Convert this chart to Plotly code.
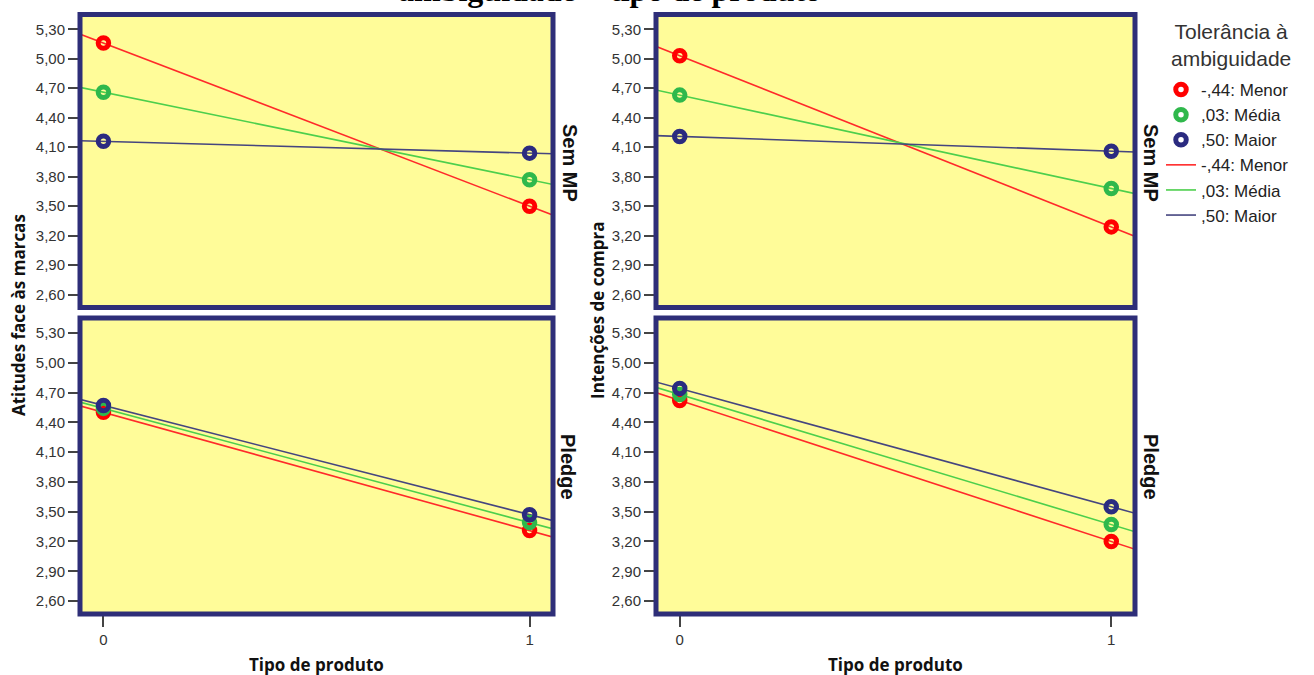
import numpy as np
import plotly.graph_objects as go

# ---------------- data ----------------
groups = ["-,44: Menor", ",03: Média", ",50: Maior"]
x_vals = [0, 1]
x_tick_labels = ["0", "1"]
y_ticks = [2.60, 2.90, 3.20, 3.50, 3.80, 4.10, 4.40, 4.70, 5.00, 5.30]

atitudes_sem_mp_menor = [5.16, 3.50]
atitudes_sem_mp_media = [4.66, 3.77]
atitudes_sem_mp_maior = [4.16, 4.04]

atitudes_pledge_menor = [4.50, 3.31]
atitudes_pledge_media = [4.54, 3.39]
atitudes_pledge_maior = [4.57, 3.47]

intencoes_sem_mp_menor = [5.03, 3.29]
intencoes_sem_mp_media = [4.63, 3.68]
intencoes_sem_mp_maior = [4.21, 4.06]

intencoes_pledge_menor = [4.62, 3.20]
intencoes_pledge_media = [4.68, 3.37]
intencoes_pledge_maior = [4.74, 3.55]

panels = [
    # (xaxis, yaxis, series)
    ("x", "y", [atitudes_sem_mp_menor, atitudes_sem_mp_media, atitudes_sem_mp_maior]),
    ("x2", "y2", [atitudes_pledge_menor, atitudes_pledge_media, atitudes_pledge_maior]),
    ("x3", "y3", [intencoes_sem_mp_menor, intencoes_sem_mp_media, intencoes_sem_mp_maior]),
    ("x4", "y4", [intencoes_pledge_menor, intencoes_pledge_media, intencoes_pledge_maior]),
]

marker_colors = ["#ff0000", "#2fb84c", "#2b2b80"]
line_colors = ["#ff2a2a", "#4ccf4c", "#45457f"]
frame_color = "#2e2e78"
panel_bg = "#fffc99"
XR = [-0.055, 1.055]
YR = [2.47, 5.45]

fig = go.Figure()

# fit lines (drawn through each pair of points and extended across the panel)
line_x = np.array([-0.2, 1.2])
for pi, (xa, ya, series) in enumerate(panels):
    for gi, vals in enumerate(series):
        slope, intercept = np.polyfit(x_vals, vals, 1)
        fig.add_trace(go.Scatter(
            x=line_x, y=slope * line_x + intercept, mode="lines",
            line=dict(color=line_colors[gi], width=1.6),
            name=groups[gi], legendrank=200 + gi,
            showlegend=(pi == 0), xaxis=xa, yaxis=ya, hoverinfo="skip"))

# markers
for pi, (xa, ya, series) in enumerate(panels):
    for gi, vals in enumerate(series):
        fig.add_trace(go.Scatter(
            x=x_vals, y=vals, mode="markers",
            marker=dict(symbol="circle-open", size=10.5, color=marker_colors[gi],
                        line=dict(width=5, color=marker_colors[gi])),
            name=groups[gi], legendrank=100 + gi,
            showlegend=(pi == 0), xaxis=xa, yaxis=ya, cliponaxis=False))

W, H = 1314, 675
def px_x(a, b):
    return [a / W, b / W]
def px_y(top, bottom):
    return [1 - bottom / H, 1 - top / H]

left_dom = px_x(80, 553)
right_dom = px_x(656, 1135)
top_dom = px_y(14.5, 307.5)
bot_dom = px_y(318, 614)

tickfont = dict(family="Liberation Sans, Arial", size=15, color="#333333")
common_x = dict(range=XR, tickvals=x_vals, ticktext=x_tick_labels, showgrid=False,
                zeroline=False, showline=False, ticklen=12,
                tickwidth=1.5, tickcolor="#444444", tickfont=tickfont, fixedrange=True)
common_y = dict(range=YR, tickvals=y_ticks, tickformat=".2f", showgrid=False,
                zeroline=False, showline=False, ticks="outside", ticklen=11,
                tickwidth=1.5, tickcolor="#444444", tickfont=tickfont, fixedrange=True)

fig.update_layout(
    width=W, height=H,
    margin=dict(l=0, r=0, t=0, b=0),
    paper_bgcolor="white", plot_bgcolor=panel_bg,
    separators=",.",
    showlegend=True,
    xaxis=dict(domain=left_dom, anchor="y", showticklabels=False, ticks="", **common_x),
    yaxis=dict(domain=top_dom, anchor="x", **common_y),
    xaxis2=dict(domain=left_dom, anchor="y2", ticks="outside", **common_x),
    yaxis2=dict(domain=bot_dom, anchor="x2", **common_y),
    xaxis3=dict(domain=right_dom, anchor="y3", showticklabels=False, ticks="", **common_x),
    yaxis3=dict(domain=top_dom, anchor="x3", **common_y),
    xaxis4=dict(domain=right_dom, anchor="y4", ticks="outside", **common_x),
    yaxis4=dict(domain=bot_dom, anchor="x4", **common_y),
    legend=dict(
        x=1161 / W, y=1 - 72 / H, xanchor="left", yanchor="top",
        bgcolor="rgba(0,0,0,0)",
        font=dict(family="Liberation Sans, Arial", size=17, color="#222222"),
        itemsizing="trace", tracegroupgap=0),
)

# frames
for xa, ya in [("x", "y"), ("x2", "y2"), ("x3", "y3"), ("x4", "y4")]:
    fig.add_shape(type="rect", xref=f"{xa} domain", yref=f"{ya} domain",
                  x0=0, x1=1, y0=0, y1=1, layer="above",
                  line=dict(color=frame_color, width=5), fillcolor="rgba(0,0,0,0)")

bold_font = dict(family="Open Sans", size=17, color="#111111")
facet_font = dict(family="Liberation Sans, Arial", size=20, color="#111111")

annotations = [
    # cropped title at top
    dict(text="<b>ambiguidade × tipo de produto</b>", x=609 / W, y=1 - 10 / H,
         xref="paper", yref="paper", xanchor="center", yanchor="bottom", showarrow=False,
         font=dict(family="Liberation Serif, Times New Roman", size=32, color="black")),
    # legend title
    dict(text="Tolerância à<br>ambiguidade", x=1231 / W, y=1 - 45 / H, xref="paper", yref="paper",
         showarrow=False, xanchor="center", yanchor="middle",
         font=dict(family="Liberation Sans, Arial", size=21, color="#333333")),
    # y-axis titles
    dict(text="<b>Atitudes face às marcas</b>", x=18 / W, y=1 - 315 / H, xref="paper", yref="paper",
         textangle=-90, showarrow=False, font=bold_font, xanchor="center", yanchor="middle"),
    dict(text="<b>Intenções de compra</b>", x=597 / W, y=1 - 310 / H, xref="paper", yref="paper",
         textangle=-90, showarrow=False, font=bold_font, xanchor="center", yanchor="middle"),
    # x-axis titles
    dict(text="<b>Tipo de produto</b>", x=316 / W, y=1 - 664 / H, xref="paper", yref="paper",
         showarrow=False, font=bold_font, xanchor="center", yanchor="middle"),
    dict(text="<b>Tipo de produto</b>", x=895 / W, y=1 - 664 / H, xref="paper", yref="paper",
         showarrow=False, font=bold_font, xanchor="center", yanchor="middle"),
    # facet labels
    dict(text="<b>Sem MP</b>", x=570 / W, y=1 - 163 / H, xref="paper", yref="paper",
         textangle=90, showarrow=False, font=facet_font, xanchor="center", yanchor="middle"),
    dict(text="<b>Pledge</b>", x=568 / W, y=1 - 467 / H, xref="paper", yref="paper",
         textangle=90, showarrow=False, font=facet_font, xanchor="center", yanchor="middle"),
    dict(text="<b>Sem MP</b>", x=1151 / W, y=1 - 163 / H, xref="paper", yref="paper",
         textangle=90, showarrow=False, font=facet_font, xanchor="center", yanchor="middle"),
    dict(text="<b>Pledge</b>", x=1151 / W, y=1 - 467 / H, xref="paper", yref="paper",
         textangle=90, showarrow=False, font=facet_font, xanchor="center", yanchor="middle"),
]
fig.update_layout(annotations=annotations)

# remove the browser's default page margin so the figure sits at the window's top-left corner
fig.write_html("out.html", config={"displayModeBar": False},
               post_script="document.body.style.margin='0px';document.body.style.overflow='hidden';")
